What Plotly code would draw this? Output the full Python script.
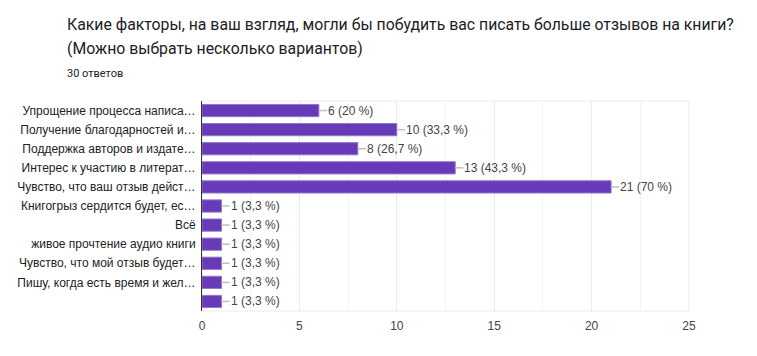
import plotly.graph_objects as go

categories = [
    "Упрощение процесса написа…",
    "Получение благодарностей и…",
    "Поддержка авторов и издате…",
    "Интерес к участию в литерат…",
    "Чувство, что ваш отзыв дейст…",
    "Книгогрыз сердится будет, ес…",
    "Всё",
    "живое прочтение аудио книги",
    "Чувство, что мой отзыв будет…",
    "Пишу, когда есть время и жел…",
    "",
]
counts = [6, 10, 8, 13, 21, 1, 1, 1, 1, 1, 1]
percents = ["20 %", "33,3 %", "26,7 %", "43,3 %", "70 %", "3,3 %", "3,3 %", "3,3 %", "3,3 %", "3,3 %", "3,3 %"]
x_ticks = [0, 5, 10, 15, 20, 25]

ids = list(range(len(categories)))

fig = go.Figure()
fig.add_trace(go.Bar(
    x=counts, y=ids, orientation="h",
    marker=dict(color="#673ab7", line=dict(color="#9575cd", width=1)),
    width=0.64, hoverinfo="skip",
))

shapes = []
annotations = []
for i, (c, p) in enumerate(zip(counts, percents)):
    shapes.append(dict(type="line", xref="x", yref="y", x0=c, x1=c + 0.42, y0=i, y1=i,
                       line=dict(color="#c0c0c0", width=1.5), layer="above"))
    annotations.append(dict(x=c + 0.42, y=i, xref="x", yref="y", text=f"{c} ({p})",
                            showarrow=False, xanchor="left", xshift=-1,
                            font=dict(family="Liberation Sans, Arial", size=12, color="#444")))

# plot border
shapes.append(dict(type="rect", xref="paper", yref="paper", x0=0, x1=1, y0=0, y1=1,
                   line=dict(color="#ececec", width=1), layer="below"))

W, H = 757, 356
L, R, T, B = 202, 68, 101, 45
pw, ph = W - L - R, H - T - B

header = [
    ("Какие факторы, на ваш взгляд, могли бы побудить вас писать больше отзывов на книги?", 24, 15.8),
    ("(Можно выбрать несколько вариантов)", 48, 15.8),
    ("30 ответов", 73, 11),
]
for text, ypx, size in header:
    annotations.append(dict(x=(65 - L) / pw, y=(H - B - ypx) / ph, xref="paper", yref="paper",
                            text=text, showarrow=False, xanchor="left", yanchor="middle",
                            font=dict(family="Roboto", size=size, color="#202124")))

fig.update_layout(
    width=W, height=H,
    margin=dict(l=L, r=R, t=T, b=B),
    paper_bgcolor="white", plot_bgcolor="white",
    showlegend=False,
    shapes=shapes, annotations=annotations,
    xaxis=dict(range=[0, 25], tickvals=x_ticks, ticktext=[str(v) for v in x_ticks],
               showgrid=True, gridcolor="#ececec", gridwidth=1, zeroline=False,
               minor=dict(dtick=2.5, showgrid=True, gridcolor="#f3f3f3"),
               tickfont=dict(family="Liberation Sans, Arial", size=12, color="#444"),
               ticks="", ticklabelstandoff=6, fixedrange=True, automargin=False),
    yaxis=dict(tickvals=ids, ticktext=categories, range=[len(categories) - 0.5, -0.5],
               showgrid=False, zeroline=False, showline=True, linecolor="#333", linewidth=1,
               tickfont=dict(family="Liberation Sans, Arial", size=12, color="#222"),
               ticks="", ticklabelstandoff=3, automargin=False, fixedrange=True),
)

fig.write_html("out.html", config={"displayModeBar": False, "staticPlot": True},
               post_script="document.body.style.margin='0';")
